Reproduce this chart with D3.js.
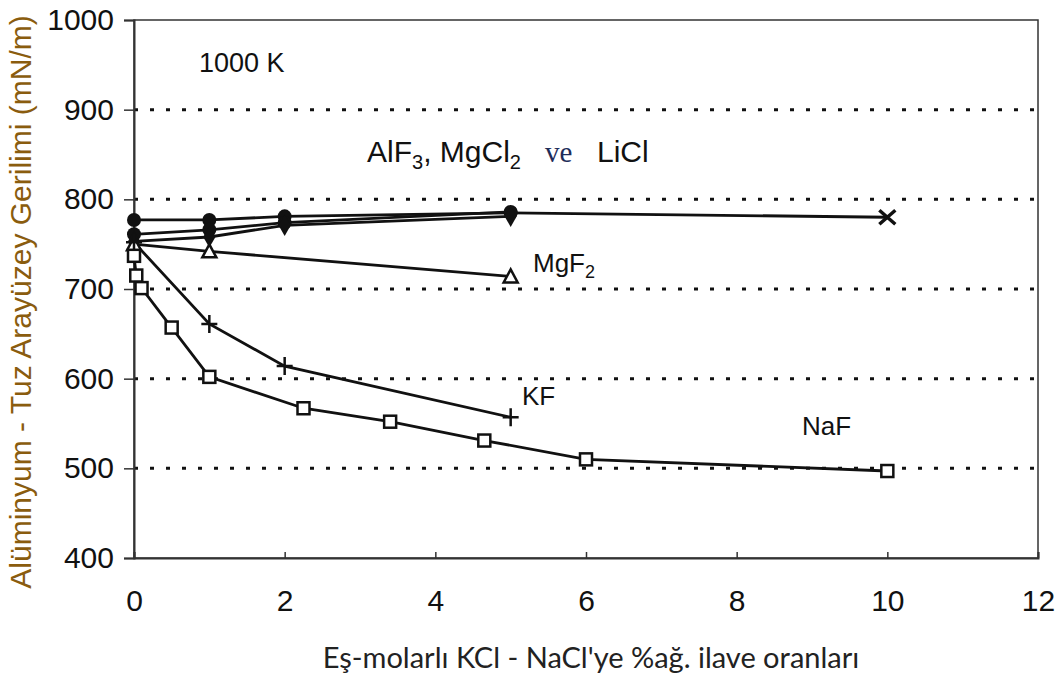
<!DOCTYPE html>
<html>
<head>
<meta charset="utf-8">
<script src="https://cdn.jsdelivr.net/npm/d3@7"></script>
<style>
  body { margin: 0; background: #fff; }
  svg { display: block; }
</style>
</head>
<body>
<svg width="1059" height="677"></svg>
<script>
// data
var xTicks = [0, 2, 4, 6, 8, 10, 12];
var yTicks = [400, 500, 600, 700, 800, 900, 1000];
var gridValues = [500, 600, 700, 800, 900];

var liclX = [0, 1, 2, 5, 10];
var liclY = [777, 777, 781, 785, 780];
var alf3X = [0, 1, 2, 5];
var alf3Y = [761, 766, 774, 786];
var mgcl2X = [0, 1, 2, 5];
var mgcl2Y = [753, 758, 771, 781];
var mgf2X = [0, 1, 5];
var mgf2Y = [750, 742, 714];
var kfX = [0, 1, 2, 5];
var kfY = [752, 661, 614, 557];
var nafX = [0, 0.03, 0.1, 0.5, 1, 2.25, 3.4, 4.65, 6, 10];
var nafY = [737, 715, 701, 657, 602, 567, 552, 531, 510, 497];

var svg = d3.select("svg");
var x = d3.scaleLinear().domain([0, 12]).range([134, 1038]);
var y = d3.scaleLinear().domain([400, 1000]).range([558, 20]);
var ff = "Liberation Sans, Arial, sans-serif";

// dotted grid
svg.selectAll(".grid")
  .data(gridValues)
  .enter().append("line")
  .attr("x1", x(0)).attr("x2", x(12))
  .attr("y1", function(d) { return y(d); })
  .attr("y2", function(d) { return y(d); })
  .attr("stroke", "#111")
  .attr("stroke-width", 3)
  .attr("stroke-dasharray", "4,12");

// frame
svg.append("rect")
  .attr("x", x(0)).attr("y", y(1000))
  .attr("width", x(12) - x(0)).attr("height", y(400) - y(1000))
  .attr("fill", "none").attr("stroke", "#333").attr("stroke-width", 1.5);

var gy = svg.append("g")
  .attr("transform", "translate(" + x(0) + ",0)")
  .call(d3.axisLeft(y).tickValues(yTicks).tickFormat(d3.format("d")).tickSize(10).tickPadding(10));
gy.selectAll("text").attr("font-size", 30).attr("font-family", ff).attr("fill", "#111");
gy.selectAll("line").attr("stroke", "#333").attr("stroke-width", 1.5);
gy.select(".domain").attr("stroke", "#333").attr("stroke-width", 2);

var gx = svg.append("g")
  .attr("transform", "translate(0," + y(400) + ")")
  .call(d3.axisBottom(x).tickValues(xTicks).tickSize(-6).tickPadding(32));
gx.selectAll("text").attr("font-size", 30).attr("font-family", ff).attr("fill", "#111");
gx.selectAll("line").attr("stroke", "#333").attr("stroke-width", 1.5);
gx.select(".domain").attr("stroke", "#333").attr("stroke-width", 2);

var line = d3.line()
  .x(function(d) { return x(d[0]); })
  .y(function(d) { return y(d[1]); });

function pts(xs, ys) { return xs.map(function(v, i) { return [v, ys[i]]; }); }

var series = [
  { name: "licl", data: pts(liclX, liclY), marker: "circle", last: "cross" },
  { name: "alf3", data: pts(alf3X, alf3Y), marker: "circle" },
  { name: "mgcl2", data: pts(mgcl2X, mgcl2Y), marker: "diamond" },
  { name: "mgf2", data: pts(mgf2X, mgf2Y), marker: "triangle" },
  { name: "kf", data: pts(kfX, kfY), marker: "plus" },
  { name: "naf", data: pts(nafX, nafY), marker: "square" }
];

series.forEach(function(s) {
  svg.append("path")
    .attr("d", line(s.data))
    .attr("fill", "none")
    .attr("stroke", "#111")
    .attr("stroke-width", 2.8);
});

series.forEach(function(s) {
  var g = svg.append("g").attr("class", "marks-" + s.name);
  s.data.forEach(function(d, i) {
    var cx = x(d[0]), cy = y(d[1]);
    var m = (s.last && i === s.data.length - 1) ? s.last : s.marker;
    if (m === "circle") {
      g.append("circle").attr("cx", cx).attr("cy", cy).attr("r", 7).attr("fill", "#111");
    } else if (m === "diamond") {
      g.append("path").attr("d", d3.symbol().type(d3.symbolDiamond).size(130)())
        .attr("transform", "translate(" + cx + "," + cy + ")").attr("fill", "#111");
    } else if (m === "triangle") {
      g.append("path").attr("d", "M0,-7L7,6L-7,6Z")
        .attr("transform", "translate(" + cx + "," + cy + ")")
        .attr("fill", "#fff").attr("stroke", "#111").attr("stroke-width", 2.5);
    } else if (m === "square") {
      g.append("rect").attr("x", cx - 6).attr("y", cy - 6).attr("width", 12).attr("height", 12)
        .attr("fill", "#fff").attr("stroke", "#111").attr("stroke-width", 2.5);
    } else if (m === "plus") {
      g.append("path").attr("d", "M-8,0H8M0,-9V9")
        .attr("transform", "translate(" + cx + "," + cy + ")")
        .attr("stroke", "#111").attr("stroke-width", 2.5);
    } else if (m === "cross") {
      g.append("path").attr("d", "M-8,-7L8,7M-8,7L8,-7")
        .attr("transform", "translate(" + cx + "," + cy + ")")
        .attr("stroke", "#111").attr("stroke-width", 3.5);
    }
  });
});

// annotations
svg.append("text").attr("x", 199).attr("y", 72)
  .attr("font-family", ff).attr("font-size", 27).attr("fill", "#111")
  .text("1000 K");

var t1 = svg.append("text").attr("x", 367).attr("y", 162)
  .attr("font-family", ff).attr("font-size", 30).attr("fill", "#111");
t1.append("tspan").text("AlF");
t1.append("tspan").attr("font-size", 20).attr("dy", 7).text("3");
t1.append("tspan").attr("dy", -7).text(", MgCl");
t1.append("tspan").attr("font-size", 20).attr("dy", 7).text("2");
t1.append("tspan").attr("dy", -7).attr("x", 545).attr("font-family", "Liberation Serif, Times New Roman, serif")
  .attr("fill", "#1f2d5a").attr("font-size", 29).text("ve");
t1.append("tspan").attr("x", 597).text("LiCl");

var t2 = svg.append("text").attr("x", 533).attr("y", 272)
  .attr("font-family", ff).attr("font-size", 26).attr("fill", "#111");
t2.append("tspan").text("MgF");
t2.append("tspan").attr("font-size", 18).attr("dy", 6).text("2");

svg.append("text").attr("x", 522).attr("y", 405)
  .attr("font-family", ff).attr("font-size", 26).attr("fill", "#111").text("KF");
svg.append("text").attr("x", 802).attr("y", 435)
  .attr("font-family", ff).attr("font-size", 26).attr("fill", "#111").text("NaF");

// axis titles
svg.append("text")
  .attr("transform", "translate(31,302) rotate(-90)")
  .attr("text-anchor", "middle")
  .attr("font-family", ff).attr("font-size", 30).attr("fill", "#8a5c0e")
  .text("Alüminyum - Tuz Arayüzey Gerilimi (mN/m)");

svg.append("text")
  .attr("x", 591).attr("y", 668)
  .attr("text-anchor", "middle")
  .attr("font-family", "Lato, Open Sans, sans-serif").attr("font-size", 29).attr("fill", "#222")
  .text("Eş-molarlı KCl - NaCl'ye %ağ. ilave oranları");
</script>
</body>
</html>
